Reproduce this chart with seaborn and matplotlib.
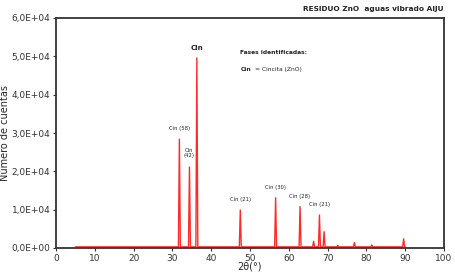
import matplotlib
matplotlib.use("Agg")
import matplotlib.pyplot as plt
import seaborn as sns
import pandas as pd
from matplotlib.ticker import FuncFormatter

# Peak data (2theta, counts)
peak_pos = [31.8, 34.4, 36.3, 47.5, 56.6, 62.9, 66.4, 67.9, 69.1, 72.6, 76.9, 81.4, 89.6]
peak_h = [28400, 21100, 49600, 9900, 13100, 10800, 1750, 8600, 4250, 700, 1400, 800, 2400]
baseline = 300
scan_start, scan_end = 5, 90

labels = ["Cin (58)", "Cin\n(42)", "Cin", "Cin (21)", "Cin (30)", "Cin (28)", "Cin (21)"]
label_x = [31.8, 34.4, 36.3, 47.5, 56.6, 62.9, 67.9]
label_y = [30500, 23500, 51500, 12000, 15000, 12800, 10600]

# Build the profile as narrow spikes
xs, ys = [scan_start], [baseline]
for p, h in zip(peak_pos, peak_h):
    xs += [p - 0.25, p, p + 0.25]
    ys += [baseline, h, baseline]
xs.append(scan_end)
ys.append(baseline)
df = pd.DataFrame({"two_theta": xs, "counts": ys})

sns.set_theme(style="white")
plt.rcParams["font.family"] = ["DejaVu Sans"]

fig = plt.figure(figsize=(4.56, 2.72), dpi=100)
ax = fig.add_axes([56 / 456, 1 - 248 / 272, (444 - 56) / 456, (248 - 18) / 272])
sns.lineplot(data=df, x="two_theta", y="counts", ax=ax, color="#ff2a2a", linewidth=1.0)

ax.set_xlim(0, 100)
ax.set_ylim(0, 60000)
ax.set_xticks(range(0, 101, 10))
ax.set_yticks(range(0, 60001, 10000))
ax.yaxis.set_major_formatter(FuncFormatter(lambda v, _: f"{v:.1E}".replace(".", ",")))
ax.tick_params(axis="both", labelsize=6.5, length=2, width=0.8, direction="out",
               left=True, bottom=True, pad=2, colors="#333333")
ax.set_xlabel("2θ(°)", fontsize=7, labelpad=-1)
ax.set_ylabel("Número de cuentas", fontsize=7)
ax.yaxis.set_label_coords(-0.118, 0.5)
for s in ax.spines.values():
    s.set_color("#333333")
    s.set_linewidth(1.3)

for t, x, y in zip(labels, label_x, label_y):
    bold = t == "Cin"
    ax.text(x, y, t, ha="center", va="bottom", fontsize=5 if bold else 3.8,
            fontweight="bold" if bold else "normal", color="#222222", linespacing=1.0)

ax.text(47.5, 50500, "Fases identificadas:", fontsize=4.3, fontweight="bold", color="#222222")
ax.text(47.5, 46300, "Cin", fontsize=4.3, fontweight="bold", color="#222222")
ax.text(51.3, 46300, "= Cincita (ZnO)", fontsize=4.3, color="#222222")

fig.text(444 / 456, 1 - 9 / 272, "RESIDUO ZnO  aguas vibrado AIJU", ha="right", va="center",
         fontsize=5.3, fontweight="bold", color="#222222")

fig.savefig("out.png", dpi=100)
